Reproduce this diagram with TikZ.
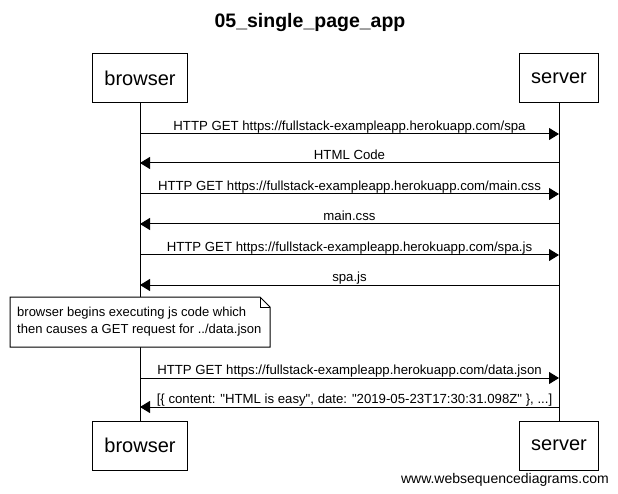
\documentclass[tikz,border=0pt]{standalone}
\usepackage{fontspec}
\setmainfont{Liberation Sans}
\usetikzlibrary{arrows.meta}

\tikzset{
  actor/.style={draw,line width=1pt,inner xsep=12pt,minimum height=49pt,font=\fontsize{20}{24}\selectfont},
  msg/.style={line width=1pt,-{Triangle[length=10pt,width=12pt]}},
  msgtext/.style={anchor=base,yshift=3.5pt,inner sep=0pt,font=\fontsize{13.2}{15}\selectfont},
  notetext/.style={anchor=north west,align=left,inner sep=0pt,font=\fontsize{13}{17}\selectfont},
}

\begin{document}
\begin{tikzpicture}[x=1pt,y=-1pt]
\useasboundingbox (0,0) rectangle (618,494);
% title
\node[font=\bfseries\fontsize{19.5}{23}\selectfont] (title) at (310,23) {05\_single\_page\_app};
% participants
\node[actor] (browser) at (140,78.5) {browser};
\node[actor] (server) at (559,78.5) {server};
\node[actor] (browserb) at (140,445.5) {browser};
\node[actor] (serverb) at (559,445.5) {server};
% lifelines
\draw[line width=1pt] (browser) -- (browserb);
\draw[line width=1pt] (server) -- (serverb);
% message ends
\coordinate (b1) at (140,134); \coordinate (s1) at (559,134);
\coordinate (b2) at (140,163); \coordinate (s2) at (559,163);
\coordinate (b3) at (140,194); \coordinate (s3) at (559,194);
\coordinate (b4) at (140,224); \coordinate (s4) at (559,224);
\coordinate (b5) at (140,255); \coordinate (s5) at (559,255);
\coordinate (b6) at (140,285); \coordinate (s6) at (559,285);
\coordinate (b7) at (140,378); \coordinate (s7) at (559,378);
\coordinate (b8) at (140,407); \coordinate (s8) at (559,407);
% messages
\draw[msg] (b1) -- node[msgtext] (m1) {HTTP GET https://fullstack-exampleapp.herokuapp.com/spa} (s1);
\draw[msg] (s2) -- node[msgtext] (m2) {HTML Code} (b2);
\draw[msg] (b3) -- node[msgtext] (m3) {HTTP GET https://fullstack-exampleapp.herokuapp.com/main.css} (s3);
\draw[msg] (s4) -- node[msgtext] (m4) {main.css} (b4);
\draw[msg] (b5) -- node[msgtext] (m5) {HTTP GET https://fullstack-exampleapp.herokuapp.com/spa.js} (s5);
\draw[msg] (s6) -- node[msgtext] (m6) {spa.js} (b6);
\draw[msg] (b7) -- node[msgtext] (m7) {HTTP GET https://fullstack-exampleapp.herokuapp.com/data.json} (s7);
\draw[msg] (s8) -- node[msgtext,xshift=5pt] (m8) {[\{ content: \textquotedbl HTML is easy\textquotedbl, date: \textquotedbl 2019-05-23T17:30:31.098Z\textquotedbl\ \}, ...]} (b8);
% note
\draw[line width=1pt,fill=white] (10,297) -- (260,297) -- (270,307) -- (270,347) -- (10,347) -- cycle;
\draw[line width=1pt] (260,297) -- (260,307) -- (270,307);
\node[notetext] (note) at (17,307) {browser begins executing js code which\\then causes a GET request for ../data.json};
% footer
\node[anchor=base east,inner sep=0pt,font=\fontsize{14}{16}\selectfont] (footer) at (609,483) {www.websequencediagrams.com};
\end{tikzpicture}
\end{document}
